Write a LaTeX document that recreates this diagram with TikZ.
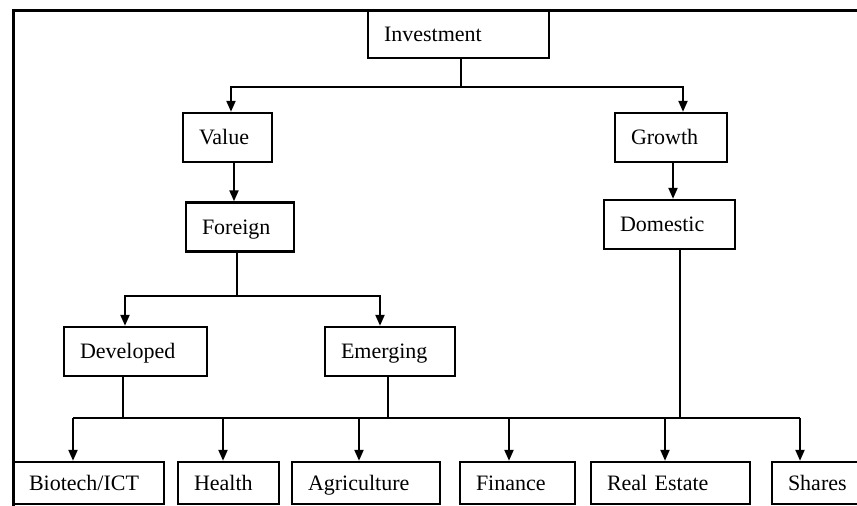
\documentclass[tikz,border=0pt]{standalone}
\usepackage{fontspec}
\setmainfont{Liberation Serif}
\usetikzlibrary{arrows.meta}
\begin{document}
\begin{tikzpicture}[x=1pt,y=-1pt,
  box/.style={draw, line width=2.4pt, rectangle, inner xsep=16pt, inner ysep=0pt,
              align=left, font=\fontsize{22}{26}\selectfont,
              text height=17pt, text depth=3pt, minimum height=49pt},
  leaf/.style={box, minimum height=42pt},
  conn/.style={line width=2.1pt},
  arr/.style={conn, -{Triangle[length=11pt,width=9pt]}},
  frame/.style={line width=3pt}]
\clip (0,0) rectangle (857,506);

% outer frame (top and left sides)
\draw[frame] (13,530) |- (880,10);

% upper levels
\node[box, text width=149pt, minimum height=47pt] (inv) at (458.5,34.5) {Investment};
\node[box, text width=57pt]  (val) at (227.5,137.5) {Value};
\node[box, text width=80pt]  (gro) at (671,137.5)   {Growth};
\node[box, text width=76pt]  (for) at (240,227)     {Foreign};
\node[box, text width=99pt]  (dom) at (669.5,224.5) {Domestic};
\node[box, text width=111pt] (dev) at (135.5,351.5) {Developed};
\node[box, text width=98pt]  (emg) at (390,351.5)   {Emerging};

% sectors
\node[leaf, text width=119pt] (bio) at (88.5,483)  {\mbox{Biotech/ICT}};
\node[leaf, text width=69pt]  (hea) at (228.5,483) {Health};
\node[leaf, text width=116pt] (agr) at (366,483)   {\mbox{Agriculture}};
\node[leaf, text width=83pt]  (fin) at (517.5,483) {Finance};
\node[leaf, text width=127pt] (rea) at (670.5,483) {\mbox{Real Estate}};
\node[leaf, text width=62pt]  (sha) at (819,483)   {\mbox{Shares}};

% Investment -> Value / Growth
\draw[conn] ([xshift=2.5pt]inv.south) -- ++(0,28) coordinate (j1);
\draw[arr] (j1) -| ([xshift=3.5pt]val.north);
\draw[arr] (j1) -| ([xshift=12pt]gro.north);

% Value -> Foreign, Growth -> Domestic
\draw[arr] ([xshift=6.5pt]val.south) -- ([xshift=6.5pt]val.south |- for.north);
\draw[arr] ([xshift=2pt]gro.south) -- ([xshift=2pt]gro.south |- dom.north);

% Foreign -> Developed / Emerging
\draw[conn] ([xshift=-3pt]for.south) -- ++(0,43) coordinate (j2);
\draw[arr] (j2) -| ([xshift=-10.5pt]dev.north);
\draw[arr] (j2) -| ([xshift=-10pt]emg.north);

% common bus to the sectors
\coordinate (bar) at (0,418);
\draw[conn] ([xshift=-12.5pt]dev.south) -- ([xshift=-12.5pt]dev.south |- bar);
\draw[conn] ([xshift=-2pt]emg.south) -- ([xshift=-2pt]emg.south |- bar);
\draw[conn] ([xshift=10.5pt]dom.south) -- ([xshift=10.5pt]dom.south |- bar);
\draw[conn] ([xshift=-15.5pt]bio.north |- bar) -- ([xshift=-19pt]sha.north |- bar);

\draw[arr] ([xshift=-15.5pt]bio.north |- bar) -- ([xshift=-15.5pt]bio.north);
\draw[arr] ([xshift=-5.5pt]hea.north |- bar) -- ([xshift=-5.5pt]hea.north);
\draw[arr] ([xshift=-7pt]agr.north |- bar) -- ([xshift=-7pt]agr.north);
\draw[arr] ([xshift=-8.5pt]fin.north |- bar) -- ([xshift=-8.5pt]fin.north);
\draw[arr] ([xshift=-5.5pt]rea.north |- bar) -- ([xshift=-5.5pt]rea.north);
\draw[arr] ([xshift=-19pt]sha.north |- bar) -- ([xshift=-19pt]sha.north);
\end{tikzpicture}
\end{document}
